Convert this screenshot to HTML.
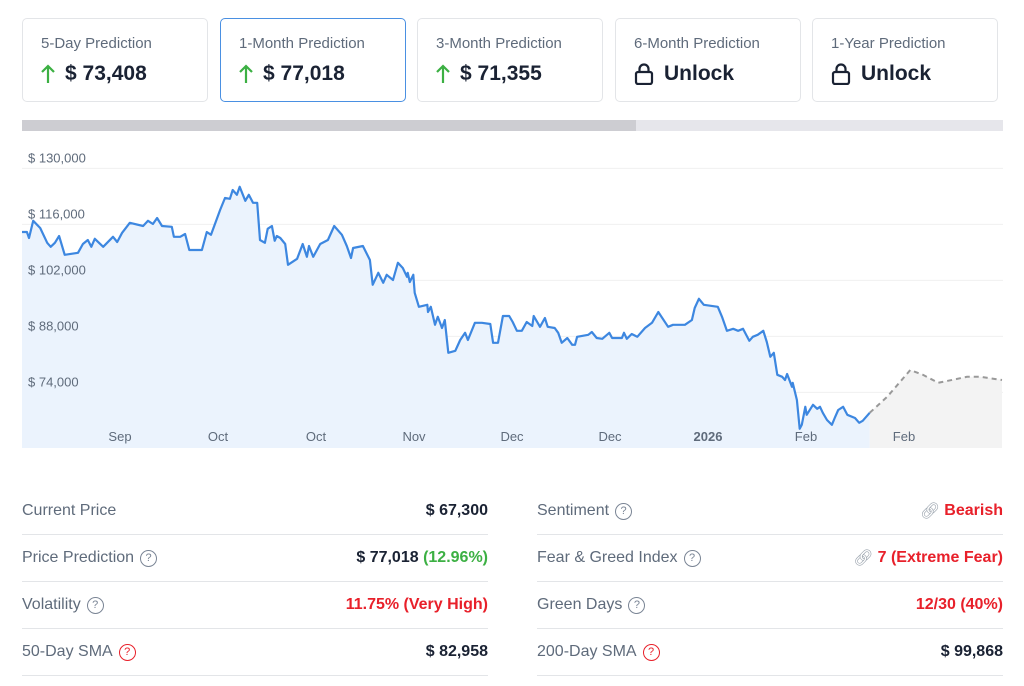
<!DOCTYPE html>
<html><head><meta charset="utf-8"><style>
*{box-sizing:border-box;margin:0;padding:0}
body{width:1024px;height:686px;background:#fff;font-family:"Liberation Sans",Arial,sans-serif;position:relative;overflow:hidden;color:#1a2233}
.card{position:absolute;top:18px;width:186px;height:84px;border:1px solid #e3e5e8;border-radius:5px;background:#fff}
.card.sel{border-color:#4a90e2}
.card .t{position:absolute;left:18px;top:16px;font-size:15px;color:#5f6b7b}
.card .v{position:absolute;left:18px;top:43px;font-size:21px;font-weight:bold;color:#1a2233;display:flex;align-items:center}
.card .v svg{margin-right:10px}
.row{position:absolute;height:47px;border-bottom:1px solid #e3e5e8;display:flex;align-items:center;justify-content:space-between;font-size:16px}
.row .l{color:#5f6b7b;display:flex;align-items:center}
.row .r{font-weight:bold;color:#1a2233;display:flex;align-items:center}
.q{display:inline-block;width:17px;height:17px;border:1.3px solid #7a8595;border-radius:50%;font-size:11px;text-align:center;line-height:15px;color:#7a8595;margin-left:6px;font-weight:normal}
.q.qr{border-color:#e8202a;color:#e8202a}
.row .r.red{color:#e8202a}.grn{color:#3cb043}
.link{color:#9aa3ad;font-weight:normal;margin-right:4px}
</style></head><body>
<div class="card" style="left:22px"><div class="t">5-Day Prediction</div><div class="v"><svg width="14" height="20" viewBox="0 0 14 20"><path d="M7 19V2M1 8L7 2L13 8" stroke="#3cb043" stroke-width="2.2" fill="none"/></svg>$ 73,408</div></div>
<div class="card sel" style="left:220px"><div class="t">1-Month Prediction</div><div class="v"><svg width="14" height="20" viewBox="0 0 14 20"><path d="M7 19V2M1 8L7 2L13 8" stroke="#3cb043" stroke-width="2.2" fill="none"/></svg>$ 77,018</div></div>
<div class="card" style="left:417px"><div class="t">3-Month Prediction</div><div class="v"><svg width="14" height="20" viewBox="0 0 14 20"><path d="M7 19V2M1 8L7 2L13 8" stroke="#3cb043" stroke-width="2.2" fill="none"/></svg>$ 71,355</div></div>
<div class="card" style="left:615px"><div class="t">6-Month Prediction</div><div class="v"><svg width="20" height="22" viewBox="0 0 20 22"><rect x="2" y="9" width="16" height="12" rx="2" fill="none" stroke="#1a2233" stroke-width="2.2"/><path d="M5.5 9V6a4.5 4.5 0 0 1 9 0v3" fill="none" stroke="#1a2233" stroke-width="2.2"/></svg>Unlock</div></div>
<div class="card" style="left:812px"><div class="t">1-Year Prediction</div><div class="v"><svg width="20" height="22" viewBox="0 0 20 22"><rect x="2" y="9" width="16" height="12" rx="2" fill="none" stroke="#1a2233" stroke-width="2.2"/><path d="M5.5 9V6a4.5 4.5 0 0 1 9 0v3" fill="none" stroke="#1a2233" stroke-width="2.2"/></svg>Unlock</div></div>

<div style="position:absolute;left:22px;top:120px;width:981px;height:11px;background:#e6e6eb"><div style="width:614px;height:11px;background:#cdcdd2"></div></div>

<svg id="chart" width="1024" height="686" style="position:absolute;left:0;top:0" xmlns="http://www.w3.org/2000/svg"></svg>

<div class="row" style="left:22px;top:488px;width:466px"><span class="l">Current Price</span><span class="r">$ 67,300</span></div>
<div class="row" style="left:22px;top:535px;width:466px"><span class="l">Price Prediction<span class="q">?</span></span><span class="r">$ 77,018&nbsp;<span class="grn">(12.96%)</span></span></div>
<div class="row" style="left:22px;top:582px;width:466px"><span class="l">Volatility<span class="q">?</span></span><span class="r red">11.75% (Very High)</span></div>
<div class="row" style="left:22px;top:629px;width:466px"><span class="l">50-Day SMA<span class="q qr">?</span></span><span class="r">$ 82,958</span></div>
<div class="row" style="left:537px;top:488px;width:466px"><span class="l">Sentiment<span class="q">?</span></span><span class="r red"><span class="link">🔗︎</span>Bearish</span></div>
<div class="row" style="left:537px;top:535px;width:466px"><span class="l">Fear &amp; Greed Index<span class="q">?</span></span><span class="r red"><span class="link">🔗︎</span>7 (Extreme Fear)</span></div>
<div class="row" style="left:537px;top:582px;width:466px"><span class="l">Green Days<span class="q">?</span></span><span class="r red">12/30 (40%)</span></div>
<div class="row" style="left:537px;top:629px;width:466px"><span class="l">200-Day SMA<span class="q qr">?</span></span><span class="r">$ 99,868</span></div>

<script>
const days=[0,0.7,1.0,1.6,2.6,3.6,4.1,4.7,5.3,6.1,8.0,8.7,9.4,9.9,10.4,11.6,13.0,13.6,14.3,15.4,17.3,18.0,18.7,19.3,20.0,21.4,21.7,22.6,23.3,23.9,25.7,26.4,27.0,28.3,29.0,29.7,30.1,30.7,31.1,31.9,32.4,33.0,33.6,34.0,34.7,35.1,35.7,36.1,36.4,36.9,37.6,38.0,39.3,40.1,40.7,41.0,41.6,42.6,43.7,44.6,45.7,46.4,47.0,47.3,48.7,49.7,50.1,50.9,51.6,52.1,53.0,53.7,54.4,55.0,55.1,55.4,55.9,56.1,56.7,57.9,58.0,58.4,59.0,59.4,60.0,60.4,60.9,61.9,62.6,63.3,63.7,64.7,65.7,66.9,67.3,68.0,68.7,69.6,70.1,70.7,71.4,72.1,72.9,73.1,74.0,74.7,75.1,76.1,76.6,77.1,77.9,78.6,79.0,79.3,80.9,81.4,82.1,82.9,83.9,84.3,85.7,86.0,86.4,87.1,87.9,89.0,90.0,90.9,92.3,93.0,94.7,95.7,96.1,96.7,97.4,99.4,100.0,100.7,101.6,102.3,103.0,103.9,104.4,105.1,105.9,106.4,106.9,107.4,107.9,108.6,109.0,109.3,110.0,110.1,110.7,111.1,111.4,111.9,112.1,113.0,113.6,114.0,114.4,115.0,115.7,116.1,116.6,117.3,117.9,119.0,119.6,120.1,121.1];
const prices=[114.1,114.1,112.6,116.9,115.1,111.4,110.4,111.4,113.1,108.4,108.9,111.1,112.1,110.4,112.4,110.4,112.9,111.6,113.9,116.4,115.6,116.9,116.1,117.6,115.6,115.4,112.9,112.9,113.6,109.6,109.6,114.1,113.4,119.6,122.6,122.4,124.6,123.4,125.4,121.9,123.4,121.4,121.4,112.1,111.4,114.9,115.6,111.9,113.1,112.6,111.1,105.9,107.4,111.1,107.9,110.6,107.9,111.1,112.1,115.6,113.4,110.6,107.6,110.1,110.6,107.1,100.9,103.9,101.4,103.4,102.1,106.4,105.1,102.9,103.9,101.6,103.4,98.9,95.4,95.9,94.1,95.4,90.9,92.9,90.1,92.1,83.9,84.4,87.1,88.9,87.1,91.4,91.4,91.1,86.4,86.4,93.1,93.1,91.6,89.4,89.4,91.6,90.6,93.1,90.4,92.6,90.4,90.1,88.9,86.4,87.6,85.9,85.9,87.9,88.4,89.1,87.6,87.4,88.9,87.6,87.6,88.9,87.4,88.6,87.9,90.1,91.4,94.1,90.4,90.9,90.9,92.1,95.1,97.4,95.9,95.4,92.9,89.4,89.9,89.4,89.9,86.9,87.9,88.4,89.4,86.6,82.9,83.9,78.4,77.9,77.1,78.6,75.4,76.4,72.1,64.9,65.9,70.4,68.4,70.9,69.9,70.4,68.9,67.1,65.9,67.6,69.6,70.4,68.4,67.6,66.4,66.9,68.9];
const fDays=[121.1,123.6,126.9,128.7,130.9,135.0,136.9,140.0];
const fPrices=[68.9,72.9,79.6,78.4,76.4,77.9,77.9,77.1];
const yTicks=[130,116,102,88,74];
const xTickDays=[14,28,42,56,70,84,98,112,126];
const xTickLabels=["Sep","Oct","Oct","Nov","Dec","Dec","2026","Feb","Feb"];
const X=d=>22+d*7, Y=p=>(172.1-p)*4, BOT=448;
const NS="http://www.w3.org/2000/svg", svg=document.getElementById('chart');
function mk(t,a){const e=document.createElementNS(NS,t);for(const k in a)e.setAttribute(k,a[k]);svg.appendChild(e);return e;}
yTicks.forEach(v=>{
 const g=mk('line',{x1:22,x2:1003,y1:Y(v),y2:Y(v),stroke:'#f0f0f0','stroke-width':1});
 
 
});
const pts=days.map((d,i)=>X(d).toFixed(1)+','+Y(prices[i]).toFixed(1));
const area=mk('polygon',{points:X(days[0])+','+BOT+' '+pts.join(' ')+' '+X(days[days.length-1])+','+BOT,fill:'#ebf3fd'});


const fpts=fDays.map((d,i)=>X(d).toFixed(1)+','+Y(fPrices[i]).toFixed(1));
const farea=mk('polygon',{points:X(fDays[0])+','+BOT+' '+fpts.join(' ')+' '+X(fDays[fDays.length-1])+','+BOT,fill:'#f3f3f3'});


yTicks.forEach(v=>{
 const t=mk('text',{x:28,y:Y(v)-6,'font-size':13,fill:'#5f6b7b','font-family':'Liberation Sans, sans-serif'});
 t.textContent='$ '+(v*1000).toLocaleString('en-US');
 
 
});
xTickDays.forEach((d,i)=>{
 const t=mk('text',{x:X(d),y:441,'font-size':13,fill:'#5f6b7b','text-anchor':'middle','font-weight':xTickLabels[i]==='2026'?'bold':'normal','font-family':'Liberation Sans, sans-serif'});
 t.textContent=xTickLabels[i];
 
 
});
const line=mk('polyline',{points:pts.join(' '),fill:'none',stroke:'#3d87e0','stroke-width':2.2,'stroke-linejoin':'round'});


const fl=mk('polyline',{points:fpts.join(' '),fill:'none',stroke:'#999','stroke-width':2,'stroke-dasharray':'5,4'});


</script>
</body></html>
